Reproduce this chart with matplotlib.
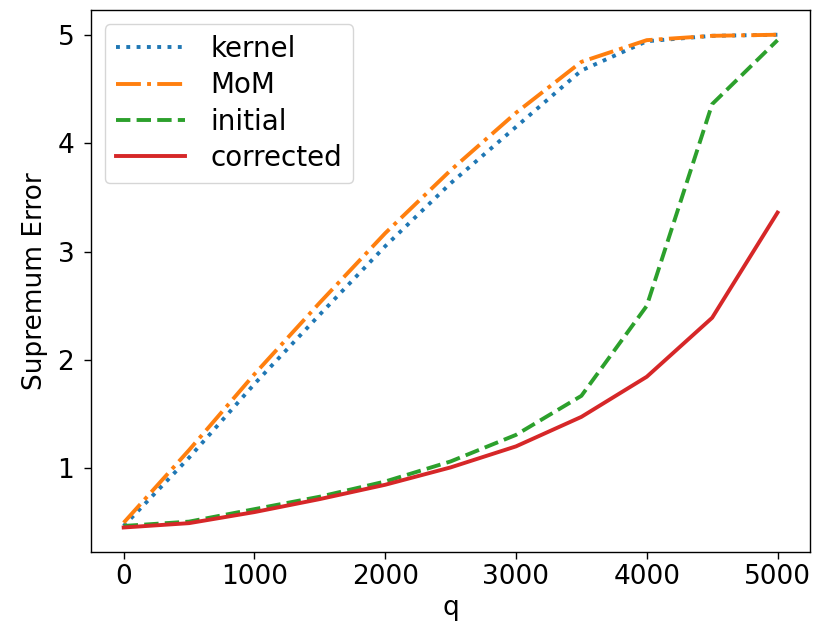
import numpy as np
import matplotlib
matplotlib.use("Agg")
from matplotlib import pyplot as plt

# Data
q = [0, 500, 1000, 1500, 2000, 2500, 3000, 3500, 4000, 4500, 5000]
kernel = [0.47, 1.10, 1.78, 2.42, 3.05, 3.63, 4.15, 4.67, 4.94, 4.99, 5.00]
mom = [0.50, 1.17, 1.87, 2.53, 3.17, 3.75, 4.28, 4.75, 4.95, 4.99, 5.00]
initial = [0.47, 0.51, 0.625, 0.74, 0.88, 1.065, 1.31, 1.67, 2.50, 4.36, 4.95]
corrected = [0.456, 0.496, 0.598, 0.718, 0.85, 1.01, 1.204, 1.476, 1.846, 2.39, 3.36]

fs = 19

fig = plt.figure(figsize=(8.31, 6.31), dpi=100)
ax = fig.add_axes([0.1095, 0.125, 0.8655, 0.859])

ax.plot(q, kernel, ':', color='tab:blue', lw=2.8, label='kernel')
ax.plot(q, mom, '-.', color='tab:orange', lw=2.8, label='MoM')
ax.plot(q, initial, '--', color='tab:green', lw=2.8, label='initial')
ax.plot(q, corrected, '-', color='tab:red', lw=2.8, label='corrected')

ax.set_xticks([0, 1000, 2000, 3000, 4000, 5000])
ax.set_yticks([1, 2, 3, 4, 5])
ax.tick_params(labelsize=fs, length=5, width=1.0)
ax.tick_params(axis='y', pad=7)
for s in ax.spines.values():
    s.set_linewidth(1.0)
ax.set_xlabel('q', fontsize=fs)
ax.set_ylabel('Supremum Error', fontsize=19, labelpad=7)

ax.legend(loc='upper left', fontsize=20, handlelength=2.5,
          handletextpad=0.9, labelspacing=0.3, borderpad=0.4)

fig.savefig('out.png', dpi=100)
